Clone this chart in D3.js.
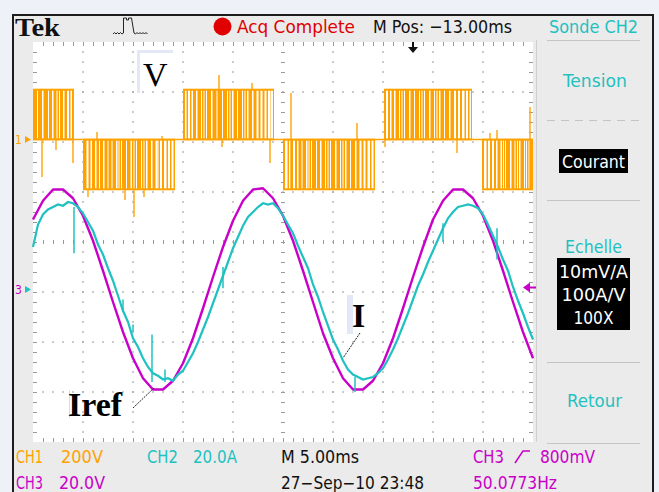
<!DOCTYPE html>
<html>
<head>
<meta charset="utf-8">
<script src="https://cdn.jsdelivr.net/npm/d3@7"></script>
<title>Tek scope capture</title>
<style>
  body { margin: 0; background: #fff; }
  svg text { font-family: "DejaVu Sans Condensed", "Liberation Sans Narrow", Roboto, sans-serif; }
  .ticks line { stroke: #9a9a9a; }
  .ticks .domain { display: none; }
</style>
</head>
<body>
<svg id="scope"></svg>
<script>
// ---- scope settings ----
const timePerDiv = 5;            // M 5.00ms
const mPos = -13;                // M Pos: -13.00ms
const chNames  = ["CH1", "CH2", "CH3"];
const chUnits  = ["200V", "20.0A", "20.0V"];
const chPerDiv = [200, 20, 20];
const chOffset = [2.05, -1.0, -0.95];   // ground marker, in divisions
const trigLevel = 0.8;                  // CH3 trigger level
const menuItems = ["Tension", "Courant", "Echelle", "Retour"];
const scaleLines = ["10mV/A", "100A/V", "100X"];

// ---- CH2 : measured current I (A), one sample every 0.5 ms ----
const sampleStep = 0.5;
const iMeas = [
  18, 27, 31, 33, 34, 35, 34.5, 36, 35.5, 34, 31.5, 28, 24.5, 19, 15, 9.5, 4.5, -1.5, -7.5, -12,
  -18.5, -22, -26.5, -30, -32.5, -33.5, -35, -34.5, -35.5, -33, -31.5, -28, -24.5, -20, -15, -10, -4.5, 1, 6.5, 12,
  17.5, 22, 26.5, 30, 32, 34, 35.5, 35, 35.5, 33.5, 30.5, 27, 23.5, 18.5, 14, 9.5, 3, -2, -8, -13.5,
  -19, -23, -27.5, -31, -33, -34, -35, -34.5, -34, -32.5, -30.5, -27, -23, -18.5, -13.5, -8.5, -3, 2.5, 7, 12,
  16.5, 21, 25.5, 29.5, 32, 34, 34.5, 35, 34.5, 33.5, 31, 27, 22.5, 18, 13, 8.5, 2, -3.5, -8.5, -14, -19
];
// short glitches on CH2: [time ms, from A, to A]
const iSpikes = [
  [4.1, 34, 15.5], [9.0, -8, -3], [10.0, -13, -16], [11.9, -36, -17], [13.2, -31, -36],
  [19.0, 10, 1.5], [32.2, -34, -40], [41.0, 27.5, 20], [46.4, 25.5, 13]
];

// ---- CH3 : reference current Iref (V), one sample every 1 ms ----
const refStep = 1;
const iRef = [
  28, 35.5, 40, 40, 36.5, 29.5, 19.5, 7.5, -5, -17, -27.5, -35.5, -40, -40, -36.5, -29.5, -19.5, -7.5, 5, 17,
  27.5, 35.5, 40, 40.5, 36.5, 29.5, 19.5, 7.5, -5, -17.5, -27.5, -35.5, -40, -40, -36.5, -29.5, -19.5, -7.5, 5, 17,
  28, 35.5, 40, 40, 36.5, 29.5, 19.5, 7.5, -5, -17, -27.5
];

// ---- CH1 : PWM voltage V ----
// switching bursts: [start ms, end ms, level V]
const vRegions = [
  [0.0, 4.1, 200], [5.0, 14.2, -200], [15.0, 24.1, 200],
  [25.0, 34.2, -200], [35.1, 43.9, 200], [44.9, 50.0, -200]
];
// holds inside the bursts: [time ms, width ms]
const vGaps = [
  [0.4, 0.1], [0.9, 0.15], [1.5, 0.1], [1.9, 0.15], [2.35, 0.1], [2.6, 0.1], [3.0, 0.15], [3.4, 0.2], [3.75, 0.15],
  [5.35, 0.2], [5.75, 0.15], [6.2, 0.15], [6.6, 0.1], [7.0, 0.15], [7.45, 0.1], [7.85, 0.1], [8.3, 0.15],
  [8.55, 0.1], [8.8, 0.1], [9.3, 0.1], [9.75, 0.15], [10.05, 0.1], [10.3, 0.1], [10.8, 0.1], [11.05, 0.1],
  [11.3, 0.15], [11.8, 0.15], [12.25, 0.2], [12.45, 0.1], [12.7, 0.2], [13.1, 0.25], [13.5, 0.2], [13.85, 0.2],
  [15.2, 0.15], [15.5, 0.2], [15.85, 0.15], [16.3, 0.15], [16.8, 0.1], [17.05, 0.1], [17.3, 0.1], [17.8, 0.15],
  [18.35, 0.1], [18.9, 0.1], [19.4, 0.1], [19.65, 0.1], [19.9, 0.15], [20.4, 0.1], [20.9, 0.1], [21.15, 0.1],
  [21.4, 0.15], [21.9, 0.15], [22.35, 0.2], [22.75, 0.2], [23.15, 0.2], [23.5, 0.25], [23.8, 0.2],
  [25.2, 0.25], [25.6, 0.2], [26.0, 0.2], [26.4, 0.15], [26.85, 0.1], [27.3, 0.15], [27.55, 0.1], [27.8, 0.1],
  [28.3, 0.1], [28.7, 0.15], [29.2, 0.1], [29.45, 0.1], [29.7, 0.1], [30.2, 0.15], [30.7, 0.1], [30.95, 0.1],
  [31.2, 0.15], [31.7, 0.1], [32.2, 0.15], [32.65, 0.2], [33.05, 0.2], [33.45, 0.25], [33.85, 0.2],
  [35.3, 0.2], [35.7, 0.15], [36.1, 0.15], [36.6, 0.1], [36.85, 0.1], [37.1, 0.1], [37.6, 0.15], [38.1, 0.1],
  [38.6, 0.1], [38.85, 0.1], [39.1, 0.1], [39.6, 0.15], [40.1, 0.1], [40.35, 0.1], [40.6, 0.15], [41.1, 0.1],
  [41.6, 0.15], [42.1, 0.2], [42.5, 0.2], [42.9, 0.25], [43.3, 0.2], [43.65, 0.15],
  [45.1, 0.25], [45.5, 0.2], [45.9, 0.2], [46.3, 0.15], [46.75, 0.15], [47.0, 0.1], [47.2, 0.1], [47.7, 0.15],
  [48.15, 0.1], [48.4, 0.1], [48.6, 0.15], [49.1, 0.1], [49.3, 0.1], [49.55, 0.15]
];
// overshoots: [time ms, from V, to V]
const vSpikes = [
  [0.9, 0, -150], [2.3, 0, -42], [4.0, 0, -94], [5.5, -200, -230], [6.4, 0, 30], [9.2, -200, -242],
  [10.1, -200, -310], [11.1, -200, -230], [12.9, 0, 14], [18.6, 200, 258], [18.9, 0, -30], [21.9, 200, 226],
  [23.7, 0, -94], [25.8, 186, -200], [32.4, 0, 66], [35.2, 0, -30], [42.4, 0, -54], [45.7, 0, 26],
  [46.4, 0, 38], [49.7, 130, -200]
];

// ---- colours ----
const orange = "#ffa200", cyan = "#1fc1c1", magenta = "#c800c8", red = "#e00000";
const serif = "'Liberation Serif', 'DejaVu Serif', serif";

const width = 659, height = 492;
const svg = d3.select("svg#scope").attr("width", width).attr("height", height);

const plot = {left: 33, top: 42, w: 500, h: 400};
const x = d3.scaleLinear().domain([0, 10 * timePerDiv]).range([plot.left, plot.left + plot.w]);
const yDiv = d3.scaleLinear().domain([-4, 4]).range([plot.top + plot.h, plot.top]);
const yCh = (ch, v) => yDiv(chOffset[ch] + v / chPerDiv[ch]);

// background, frame
svg.append("rect").attr("width", width).attr("height", height).attr("fill", "#eef1f8");
svg.append("rect").attr("x", 13).attr("y", 15).attr("width", 640).attr("height", height - 15).attr("fill", "#ebebeb");
svg.append("path").attr("d", "M13,492 V15 H653 V492").attr("fill", "none").attr("stroke", "#1c1c1c").attr("stroke-width", 2);
svg.append("rect").attr("x", plot.left).attr("y", plot.top).attr("width", plot.w).attr("height", plot.h).attr("fill", "#fff");
svg.append("line").attr("x1", 536.5).attr("x2", 536.5).attr("y1", 40).attr("y2", 442).attr("stroke", "#cfcfcf");

// ---- graticule ----
let grid = svg.append("g");
const minorT = d3.range(1, 50, 1);
const minorD = d3.range(-3.8, 3.9, 0.2);
const gx = [5, 10, 15, 20, 30, 35, 40, 45];
const gy = [-3, -2, -1, 1, 2, 3];
grid.selectAll("rect.vdot")
    .data(gx.flatMap(t => minorD.map(d => [t, d])))
    .join("rect").attr("class", "vdot")
    .attr("x", d => x(d[0]) - 0.75).attr("y", d => yDiv(d[1]) - 0.75)
    .attr("width", 1.5).attr("height", 1.5).attr("fill", "#a5a5a5");
grid.selectAll("rect.hdot")
    .data(gy.flatMap(d => minorT.map(t => [t, d])))
    .join("rect").attr("class", "hdot")
    .attr("x", d => x(d[0]) - 0.75).attr("y", d => yDiv(d[1]) - 0.75)
    .attr("width", 1.5).attr("height", 1.5).attr("fill", "#a5a5a5");

const tickAxes = [
  [d3.axisBottom(x).tickValues(minorT), `translate(0,${plot.top})`],
  [d3.axisTop(x).tickValues(minorT), `translate(0,${plot.top + plot.h})`],
  [d3.axisBottom(x).tickValues(minorT), `translate(0,${yDiv(0) - 2})`],
  [d3.axisRight(yDiv).tickValues(minorD), `translate(${plot.left},0)`],
  [d3.axisLeft(yDiv).tickValues(minorD), `translate(${plot.left + plot.w},0)`],
  [d3.axisRight(yDiv).tickValues(minorD), `translate(${x(25) - 2},0)`]
];
tickAxes.forEach(([ax, tr]) => {
  grid.append("g").attr("class", "ticks").attr("transform", tr)
      .call(ax.tickSize(4).tickFormat(""));
});

// ---- CH1 voltage ----
let ch1 = svg.append("g");
ch1.append("line").attr("x1", x(0)).attr("x2", x(50)).attr("y1", yCh(0, 0)).attr("y2", yCh(0, 0))
   .attr("stroke", orange).attr("stroke-width", 1.6);
ch1.selectAll("rect.burst").data(vRegions).join("rect").attr("class", "burst")
   .attr("x", d => x(d[0])).attr("width", d => x(d[1]) - x(d[0]))
   .attr("y", d => Math.min(yCh(0, 0), yCh(0, d[2])) - 0.8)
   .attr("height", d => Math.abs(yCh(0, d[2]) - yCh(0, 0)) + 1.6)
   .attr("fill", orange);
const regionOf = t => vRegions.find(r => t >= r[0] && t <= r[1]);
ch1.selectAll("rect.gap").data(vGaps).join("rect").attr("class", "gap")
   .attr("x", d => x(d[0])).attr("width", d => x(d[0] + d[1]) - x(d[0]))
   .attr("y", d => Math.min(yCh(0, 0), yCh(0, regionOf(d[0])[2])) + 1.2)
   .attr("height", d => Math.abs(yCh(0, regionOf(d[0])[2]) - yCh(0, 0)) - 2.4)
   .attr("fill", "#fff");
ch1.selectAll("line.spike").data(vSpikes).join("line").attr("class", "spike")
   .attr("x1", d => x(d[0])).attr("x2", d => x(d[0]))
   .attr("y1", d => yCh(0, d[1])).attr("y2", d => yCh(0, d[2]))
   .attr("stroke", orange).attr("stroke-width", 1.4);

// ---- CH3 reference ----
const refLine = d3.line().x((d, i) => x(i * refStep)).y(d => yCh(2, d));
svg.append("path").attr("d", refLine(iRef)).attr("fill", "none")
   .attr("stroke", magenta).attr("stroke-width", 2.4).attr("stroke-linejoin", "round");

// ---- CH2 measured current ----
const measLine = d3.line().x((d, i) => x(i * sampleStep)).y(d => yCh(1, d));
svg.append("path").attr("d", measLine(iMeas)).attr("fill", "none")
   .attr("stroke", cyan).attr("stroke-width", 2.2).attr("stroke-linejoin", "miter");
svg.selectAll("line.ispike").data(iSpikes).join("line").attr("class", "ispike")
   .attr("x1", d => x(d[0])).attr("x2", d => x(d[0]))
   .attr("y1", d => yCh(1, d[1])).attr("y2", d => yCh(1, d[2]))
   .attr("stroke", cyan).attr("stroke-width", 1.5);

// ---- ground / trigger markers ----
const marker = (ch, label, color, arrowColor) => {
  const y = yCh(ch, 0);
  svg.append("text").attr("x", 15).attr("y", y + 4.5).attr("font-size", 12).attr("fill", color).text(label);
  svg.append("path").attr("d", `M25,${y - 3.5} L31,${y} L25,${y + 3.5} Z`).attr("fill", arrowColor);
};
marker(0, "1", orange, orange);
marker(2, "3", magenta, cyan);
const trigY = yCh(2, trigLevel);
svg.append("path").attr("d", `M${plot.left + plot.w - 10},${trigY} l7,-5 v4 h6 v2 h-6 v4 Z`).attr("fill", magenta);
const trigX = x(25 - mPos);
svg.append("path").attr("d", `M${trigX - 1},${plot.top} h2 v5 h4 l-5,6 l-5,-6 h4 Z`).attr("fill", "#111");

// ---- annotations ----
let notes = svg.append("g");
notes.append("path").attr("d", "M173,51.5 H138.5 V93").attr("fill", "none").attr("stroke", "#e2e8f6").attr("stroke-width", 3);
notes.append("rect").attr("x", 347).attr("y", 295).attr("width", 6).attr("height", 39).attr("fill", "#e2e8f6");
notes.append("line").attr("x1", 69.5).attr("x2", 69.5).attr("y1", 390).attr("y2", 418).attr("stroke", "#d5dbe8");
notes.append("text").attr("x", 143).attr("y", 86).attr("font-size", 34).style("font-family", serif).text("V");
notes.append("text").attr("x", 352).attr("y", 327).attr("font-size", 34).attr("font-weight", "bold").style("font-family", serif).text("I");
notes.append("text").attr("x", 68).attr("y", 416).attr("font-size", 34).attr("font-weight", "bold").style("font-family", serif).text("Iref");
notes.append("line").attr("x1", 360).attr("y1", 333).attr("x2", 343).attr("y2", 358)
     .attr("stroke", "#222").attr("stroke-dasharray", "2,1");
notes.append("line").attr("x1", 133).attr("y1", 408).attr("x2", 154).attr("y2", 388)
     .attr("stroke", "#222").attr("stroke-dasharray", "2,1");

// ---- header ----
const label = (txt, xx, yy, size, color, len, anchor) => {
  const t = svg.append("text").attr("x", xx).attr("y", yy).attr("font-size", size).attr("fill", color).text(txt);
  if (len) t.attr("textLength", len).attr("lengthAdjust", "spacingAndGlyphs");
  if (anchor) t.attr("text-anchor", anchor);
  return t;
};
label("Tek", 15, 36, 26, "#111", 45).style("font-family", serif).attr("font-weight", "bold");
svg.append("path").attr("fill", "none").attr("stroke", "#222").attr("stroke-width", 1)
   .attr("d", "M113,34 l1.5,-1.5 l1.5,1.5 l1.5,-1.5 l1.5,1.5 l1.5,-1.5 l1.5,1.5 l1.5,-1 V18 h3 v2 h2 v-2 h3 L134,33 l1.5,1 l1.5,-1.5 l1.5,1.5 l1.5,-1.5 l1.5,1.5 l1.5,-1.5 l1.5,1.5 l1.5,-1.5 l1.5,1.5");
svg.append("circle").attr("cx", 222.5).attr("cy", 26.5).attr("r", 9).attr("fill", red);
label("Acq Complete", 237, 33, 18, red, 118);
label("M Pos: \u221213.00ms", 373, 33, 18, "#111", 139);
label("Sonde CH2", 549, 33, 18, cyan, 89);

// ---- side menu ----
const sep = (yy, dashed) => svg.append("line").attr("x1", 547).attr("x2", 640).attr("y1", yy).attr("y2", yy)
   .attr("stroke", "#c4c4c4").attr("stroke-width", 1.2).attr("stroke-dasharray", dashed ? "8,6" : null);
sep(40.5); sep(120.5, true); sep(200.5); sep(362.5); sep(443.5);
label(menuItems[0], 595, 87, 18, cyan, 64, "middle");
svg.append("rect").attr("x", 559).attr("y", 149).attr("width", 69).attr("height", 24).attr("fill", "#000");
label(menuItems[1], 593.5, 168, 17, "#fff", 63, "middle");
label(menuItems[2], 593.5, 253, 18, cyan, 57, "middle");
svg.append("rect").attr("x", 557).attr("y", 258).attr("width", 73).attr("height", 72).attr("fill", "#000");
const scaleLens = [69, 64, 40];
scaleLines.forEach((s, i) => label(s, 593.5, 278 + i * 23, 17, "#fff", scaleLens[i], "middle"));
label(menuItems[3], 594.5, 407, 18, cyan, 55, "middle");

// ---- status lines ----
label(chNames[0], 16, 463, 17, orange, 27);
label(chUnits[0], 61, 463, 17, orange, 42);
label(chNames[1], 147, 463, 17, cyan, 31);
label(chUnits[1], 193, 463, 17, cyan, 44);
label("M " + timePerDiv.toFixed(2) + "ms", 281, 463, 17, "#111", 78);
label(chNames[2], 473, 463, 17, magenta, 31);
svg.append("path").attr("d", "M515,463 L523,451 H530").attr("fill", "none").attr("stroke", magenta).attr("stroke-width", 1.5);
label("800mV", 540, 463, 17, magenta, 55);
label(chNames[2], 16, 489, 17, magenta, 27);
label(chUnits[2], 59, 489, 17, magenta, 46);
label("27\u2212Sep\u221210 23:48", 281, 489, 17, "#111", 143);
label("50.0773Hz", 473, 489, 17, magenta, 84);
</script>
</body>
</html>
